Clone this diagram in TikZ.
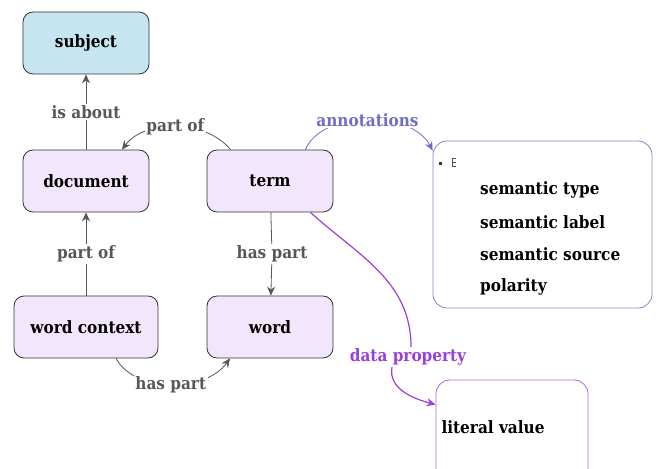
\documentclass[tikz,border=0pt]{standalone}
\usepackage{fontspec}
\setmainfont{DejaVu Serif Condensed}
\usepackage{tikz}
\usetikzlibrary{arrows.meta,calc,positioning}

\definecolor{conceptfill}{HTML}{F2E6FC}
\definecolor{subjfill}{HTML}{C6E5F0}
\definecolor{edgegray}{HTML}{575757}
\definecolor{annotblue}{HTML}{6E6EC2}
\definecolor{datapurple}{HTML}{9B3FD9}

\begin{document}
\begin{tikzpicture}[x=1pt,y=1pt,>={Stealth[length=9pt,width=8pt]},
    every node/.style={font=\bfseries\fontsize{17}{20}\selectfont},
    concept/.style={draw=black!80,thick,rounded corners=10pt,fill=conceptfill,
      minimum width=126pt,minimum height=62pt},
    rel/.style={draw=edgegray,thick},
    rellabel/.style={fill=white,text=edgegray,inner sep=1.5pt}]
  \useasboundingbox (0,0) rectangle (657,469);
  \clip (0,0) rectangle (657,469);

  % concepts
  \node[concept,fill=subjfill] (subject) at (86,426) {subject};
  \node[concept] (document) at (86,288) {document};
  \node[concept] (term) at (270,288) {term};
  \node[concept,minimum width=144pt] (wordctx) at (86,142) {word context};
  \node[concept] (word) at (270,142) {word};

  % annotation box
  \node[draw=annotblue!85,thick,rounded corners=14pt,minimum width=219pt,
        minimum height=167pt] (annot) at (542.5,244.5) {};
  \fill[black!80] (439,304) rectangle +(3,3);
  \draw[black!70,line width=0.6pt] (452,311) -- (452,302)
    (452,310.5) -- (456,310.5) (452,306.5) -- (456,306.5) (452,302.5) -- (456,302.5);
  \foreach \txt [count=\i] in {semantic type,semantic label,semantic source,polarity}
    \node[anchor=west,inner sep=0pt] (annot\i) at (480,{312-32.5*\i}) {\txt};

  % literal
  \node[draw=datapurple!80,thick,rounded corners=14pt,minimum width=152pt,
        minimum height=110pt] (literal) at (512,34) {};
  \node[anchor=west] (litval) at (438,42) {literal value};

  % relations
  \node[rellabel] (isabout) at (86,357) {is about};
  \draw[rel,->] (document) -- (isabout) -- (subject);
  \node[rellabel] (partof1) at (86,215) {part of};
  \draw[rel,->] (wordctx) -- (partof1) -- (document);
  \draw[rel,->] ([xshift=24pt]term.north west) .. controls (205,350) and (145,350) ..
    node[rellabel,pos=0.5] (partof2) {part of} ([xshift=36pt]document.north);
  \node[rellabel] (haspart1) at (272,215) {has part};
  \draw[rel,->] (term) -- (haspart1) -- (word);
  \draw[rel,->] ([xshift=30pt]wordctx.south) .. controls (135,76) and (205,76) ..
    node[rellabel,pos=0.5] (haspart2) {has part} ([xshift=-40pt]word.south);

  % annotations
  \draw[annotblue,thick,->] ([xshift=-28pt]term.north east) .. controls (322,359) and (412,359) ..
    node[fill=white,text=annotblue,inner sep=1.5pt,pos=0.5] (annotlabel) {annotations}
    ([yshift=-10pt]annot.north west);

  % data property
  \node[text=datapurple,fill=white,inner sep=1.5pt] (dplabel) at (408,112) {data property};
  \draw[datapurple,very thick] ([xshift=-23pt]term.south east) to[out=-42,in=90]
    ([xshift=3pt]dplabel.north);
  \draw[datapurple,very thick,->] ([xshift=-16pt]dplabel.south) to[out=-100,in=165]
    ([yshift=-25pt]literal.north west);
\end{tikzpicture}
\end{document}
